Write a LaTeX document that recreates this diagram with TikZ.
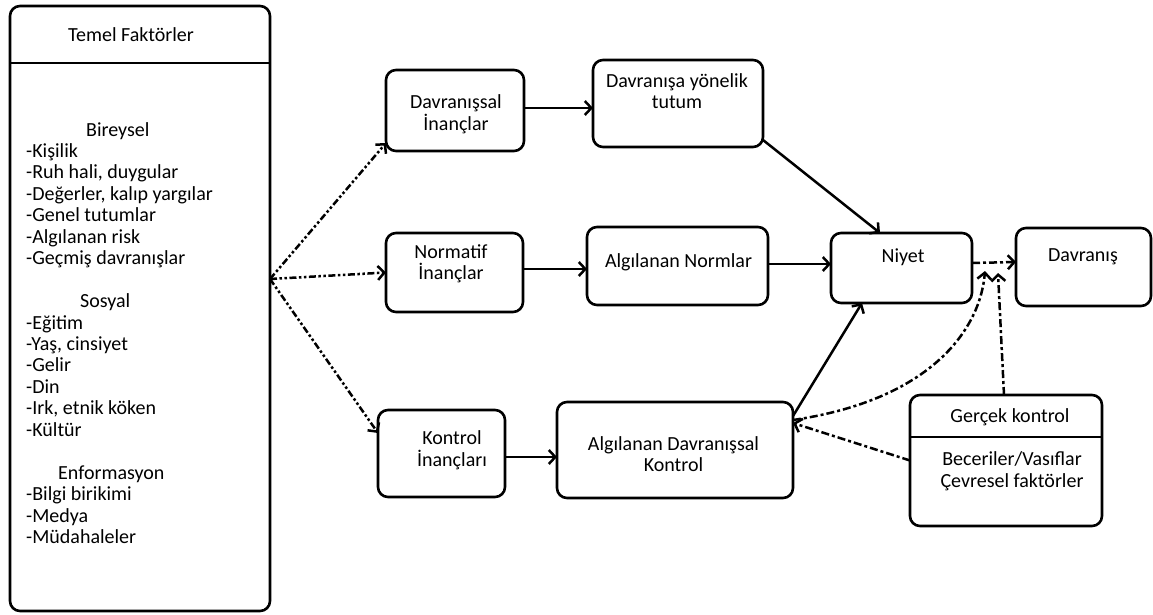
\documentclass[tikz,border=0pt]{standalone}
\usepackage{fontspec}
\setmainfont{Carlito}
\usetikzlibrary{arrows.meta}

\tikzset{
  box/.style={draw, line width=2.6pt, rounded corners=10pt, inner sep=0pt, outer sep=0pt},
  txt/.style={font=\fontsize{20}{21.5}\selectfont, align=center, inner sep=0pt},
  item/.style={font=\fontsize{20}{21.5}\selectfont, inner sep=0pt, anchor=base west},
  link/.style={line width=2.5pt, -{Straight Barb[length=6.5pt, width=14pt]}},
  dashdotdot/.style={link, dash pattern=on 7pt off 2.5pt on 2.5pt off 2.5pt on 2.5pt off 2.5pt},
  dashdot/.style={link, dash pattern=on 8pt off 3pt on 3pt off 3pt},
}

\begin{document}
\begin{tikzpicture}[x=1pt, y=-1pt]
\useasboundingbox (0,0) rectangle (1153,615);

% ---- boxes ----
\node[box, minimum width=260pt, minimum height=605pt] (factors) at (140,308.5) {};
\node[box, minimum width=138pt, minimum height=81pt]  (db)     at (455,110.5) {};
\node[box, minimum width=170pt, minimum height=87pt]  (tutum)  at (678,103.5) {};
\node[box, minimum width=137pt, minimum height=79pt]  (ni)     at (454.5,272.5) {};
\node[box, minimum width=181pt, minimum height=78pt]  (an)     at (677.5,266) {};
\node[box, minimum width=141pt, minimum height=70pt]  (niyet)  at (901.5,268) {};
\node[box, minimum width=135pt, minimum height=78pt]  (dav)    at (1083.5,267) {};
\node[box, minimum width=127pt, minimum height=87pt]  (ki)     at (441.5,453.5) {};
\node[box, minimum width=236pt, minimum height=96pt]  (adk)    at (675,450) {};
\node[box, minimum width=192pt, minimum height=131pt] (gk)     at (1006,460.5) {};

% header rules
\coordinate (h1) at (0,63);
\coordinate (h2) at (0,437);
\draw[line width=2.6pt] (factors.west |- h1) -- (factors.east |- h1);
\draw[line width=2.6pt] (gk.west |- h2) -- (gk.east |- h2);

% ---- box texts ----
\node[txt] (tfac)   at (131,35)    {Temel Faktörler};
\node[txt] (tdb)    at (456,114)   {Davranışsal\\İnançlar};
\node[txt] (ttutum) at (677,91)    {Davranışa yönelik\\tutum};
\node[txt] (tni)    at (451,264)   {Normatif\\İnançlar};
\node[txt] (tan)    at (678.5,262) {Algılanan Normlar};
\node[txt] (tniyet) at (903,257)   {Niyet};
\node[txt] (tdav)   at (1083,257)  {Davranış};
\node[txt] (tki)    at (452,450)   {Kontrol\\İnançları};
\node[txt] (tadk)   at (673.5,454) {Algılanan Davranışsal\\Kontrol};
\node[txt] (tgk)    at (1010,417)  {Gerçek kontrol};
\node[txt] (tgkb)   at (1012,471)  {Beceriler/Vasıflar\\Çevresel faktörler};

% ---- factor list ----
\foreach \i/\x/\t in {0/86/Bireysel, 1/26/-Kişilik, 2/26/{-Ruh hali, duygular},
    3/26/{-Değerler, kalıp yargılar}, 4/26/-Genel tutumlar, 5/26/-Algılanan risk,
    6/26/-Geçmiş davranışlar, 8/80/Sosyal, 9/26/-Eğitim, 10/26/{-Yaş, cinsiyet},
    11/26/-Gelir, 12/26/-Din, 13/26/{-Irk, etnik köken}, 14/26/-Kültür,
    16/58/Enformasyon, 17/26/-Bilgi birikimi, 18/26/-Medya, 19/26/-Müdahaleler}
  \node[item] (f\i) at (\x, 136+21.45*\i) {\t};

% ---- connectors from the factors box ----
\coordinate (src) at (270,279);
\draw[dashdotdot] (src) -- ([yshift=8pt]db.south west);
\draw[dashdotdot] (src) -- (ni.west);
\draw[dashdotdot] (src) -- ([yshift=-23pt]ki.north west);

% ---- solid links ----
\draw[link] ([yshift=2.5pt]db.east) -- ([yshift=2.5pt]db.east -| tutum.west);
\draw[link] ([yshift=3.5pt]ni.east) -- ([yshift=3.5pt]ni.east -| an.west);
\draw[link] ([yshift=-3.5pt]ki.east) -- ([yshift=-3.5pt]ki.east -| adk.west);
\draw[link] ([yshift=2pt]an.east) -- ([yshift=2pt]an.east -| niyet.west);
\draw[link] ([yshift=7pt]tutum.south east) -- ([xshift=-21.5pt]niyet.north);
\draw[link] ([yshift=-14pt]adk.north east) -- ([xshift=-39.5pt]niyet.south);

% ---- intention to behaviour and actual control ----
\draw[dashdot] ([yshift=5pt]niyet.east) -- ([yshift=5pt]dav.west);
\coordinate (mod1) at (985,271);
\coordinate (mod2) at (998,273);
\draw[dashdot] ([yshift=-18pt]adk.north east) .. controls (930,400) and (980,330) .. (mod1);
\draw[dashdot] (gk.west) -- ([yshift=-21pt]adk.north east);
\draw[dashdot] ([xshift=-2pt]gk.north) -- (mod2);
\end{tikzpicture}
\end{document}
